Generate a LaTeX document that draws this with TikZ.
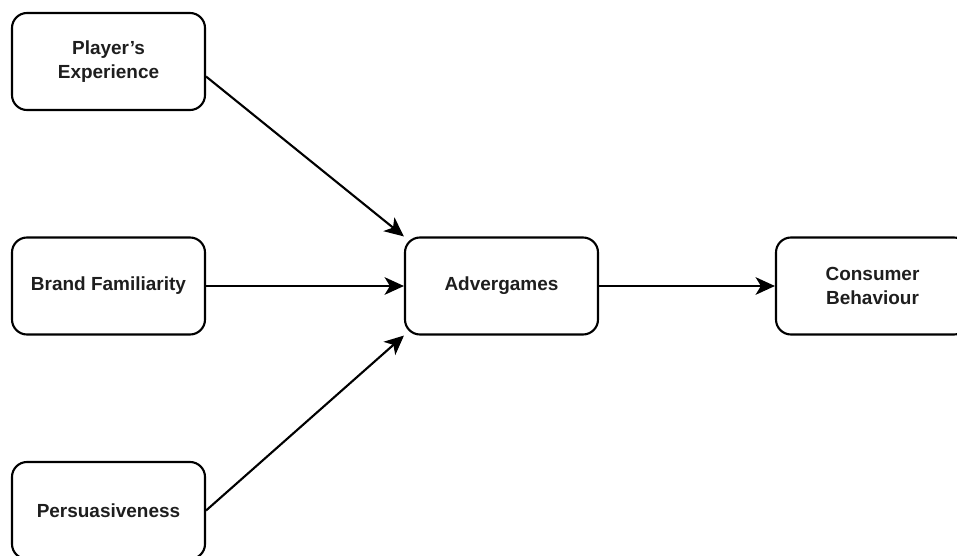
\documentclass[tikz,border=0pt]{standalone}
\usepackage{fontspec}
\setmainfont{Liberation Sans}
\usepackage{tikz}
\usetikzlibrary{arrows.meta}
\definecolor{lineBlack}{RGB}{0, 0, 0}
\definecolor{textGrey}{RGB}{30, 30, 30}

\tikzset{
  box/.style={draw=lineBlack, line width=1.2pt, rounded corners=0.3cm,
    minimum width=3.86cm, minimum height=1.94cm, align=center, text=textGrey,
    font=\fontsize{10.8}{14}\selectfont\bfseries},
  link/.style={-{Stealth[length=11pt, width=10pt, inset=3pt]}, line width=1.2pt, draw=lineBlack}
}

\begin{document}
\begin{tikzpicture}
        \useasboundingbox (0,0) rectangle (19.14,11.1);
        \node[box] (player) at (2.17,9.87) {Player's\\Experience};
        \node[box] (brand) at (2.17,5.38) {Brand Familiarity};
        \node[box] (persuade) at (2.17,0.89) {Persuasiveness};
        \node[box] (adver) at (10.03,5.38) {Advergames};
        \node[box] (consumer) at (17.45,5.38) {Consumer\\Behaviour};
        \draw[link] ([yshift=-0.3cm]player.east) -- (adver.north west);
        \draw[link] (brand) -- (adver);
        \draw[link] (persuade.east) -- (adver.south west);
        \draw[link] (adver) -- (consumer);
      \end{tikzpicture}
\end{document}
